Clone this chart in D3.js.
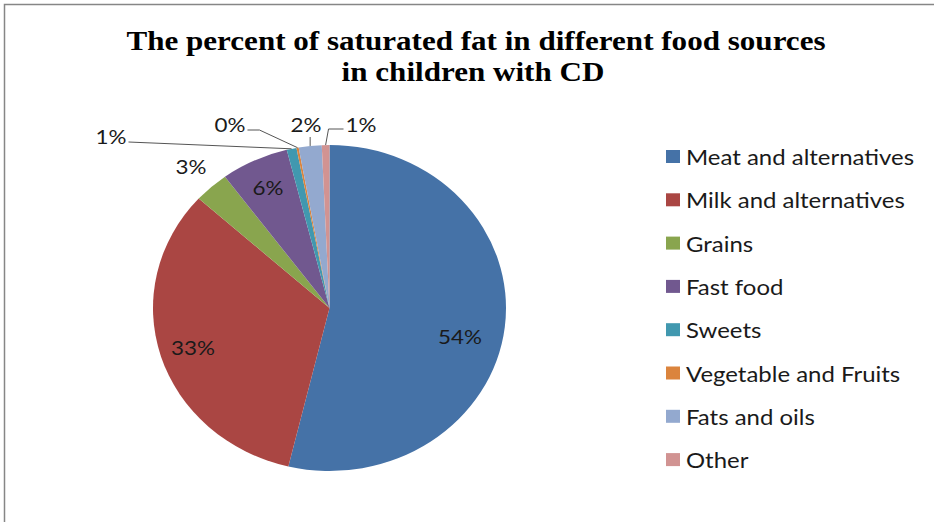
<!DOCTYPE html>
<html>
<head>
<meta charset="utf-8">
<script src="https://cdn.jsdelivr.net/npm/d3@7"></script>
<style>
  html, body { margin: 0; padding: 0; background: #fff; }
  svg { display: block; }
</style>
</head>
<body>
<svg id="chart" width="934" height="522"></svg>
<script>
// Share of saturated fat by food source
const categories = [
  "Meat and alternatives",
  "Milk and alternatives",
  "Grains",
  "Fast food",
  "Sweets",
  "Vegetable and Fruits",
  "Fats and oils",
  "Other"
];
const shares = [53.8, 33.0, 3.2, 6.2, 0.9, 0.2, 2.1, 0.7];
const colors = ["#4572A7", "#AA4643", "#89A54E", "#71588F", "#4198AF", "#DB843D", "#93A9CF", "#D19392"];
const titleLines = ["The percent of saturated fat in different food sources", "in children with CD"];

const svg = d3.select("#chart");
const W = 934, H = 522;

// widen a text element horizontally by a factor
function widen(sel, k) {
  const w = sel.node().getComputedTextLength();
  sel.attr("textLength", w * k).attr("lengthAdjust", "spacingAndGlyphs");
  return sel;
}

// chart frame (runs past the right and bottom edges)
svg.append("rect")
  .attr("x", 4.5).attr("y", 4.5)
  .attr("width", W + 20).attr("height", H + 20)
  .attr("fill", "#fff").attr("stroke", "#868686").attr("stroke-width", 1.5);

// title
const title = svg.append("g");
titleLines.forEach((t, i) => {
  widen(title.append("text")
    .attr("x", 476 - i * 3).attr("y", 50 + i * 31)
    .attr("text-anchor", "middle")
    .attr("font-family", "'Liberation Serif', 'Times New Roman', serif")
    .attr("font-weight", "bold")
    .attr("font-size", 27.5)
    .attr("fill", "#000")
    .text(t), 1.13);
});

// pie geometry: slightly wider than tall
const cx = 329.5, cy = 308, rx = 176.5, ry = 163;
const total = d3.sum(shares);
const pct = v => Math.round(v / total * 100) + "%";

const pie = d3.pie().sort(null).value(d => d.v);
const data = pie(categories.map((c, i) => ({ c, v: shares[i], color: colors[i] })));
const arc = d3.arc().innerRadius(0).outerRadius(ry);

const pieG = svg.append("g")
  .attr("transform", `translate(${cx},${cy}) scale(${rx / ry},1)`);
pieG.selectAll("path")
  .data(data)
  .join("path")
  .attr("d", arc)
  .attr("fill", d => d.data.color);

// point on the ellipse at angle a (radians, clockwise from top), radius fraction f
const pt = (a, f) => [cx + Math.sin(a) * rx * f, cy - Math.cos(a) * ry * f];
const mid = d => (d.startAngle + d.endAngle) / 2;

const labelFont = "Lato, 'Open Sans', sans-serif";
const labelSize = 20;
const stretch = 1.12; // body text is set a little wide

// labels inside or just outside the larger slices: [radius fraction, angular nudge in degrees]
const labelPlace = {
  "Meat and alternatives": [0.76, 6.5],
  "Milk and alternatives": [0.81, 0],
  "Fast food": [0.82, 0],
  "Grains": [1.17, 0]
};
data.filter(d => labelPlace[d.data.c]).forEach(d => {
  const [f, nudge] = labelPlace[d.data.c];
  const [x, y] = pt(mid(d) + nudge * Math.PI / 180, f);
  widen(svg.append("text")
    .attr("x", x).attr("y", y)
    .attr("text-anchor", "middle").attr("dominant-baseline", "central")
    .attr("font-family", labelFont).attr("font-size", labelSize)
    .attr("fill", "#1a1a1a")
    .text(pct(d.data.v)), stretch);
});

// callouts for the thin slices at the top, with leader lines
const callouts = {
  "Sweets": { x: 111, y: 136, side: "right" },
  "Vegetable and Fruits": { x: 230, y: 124, side: "right", elbow: 12 },
  "Fats and oils": { x: 306, y: 124, side: "bottom" },
  "Other": { x: 361, y: 124, side: "left", elbow: 15 }
};
data.filter(d => callouts[d.data.c]).forEach(d => {
  const c = callouts[d.data.c];
  const t = widen(svg.append("text")
    .attr("x", c.x).attr("y", c.y)
    .attr("text-anchor", "middle").attr("dominant-baseline", "central")
    .attr("font-family", labelFont).attr("font-size", labelSize)
    .attr("fill", "#1a1a1a")
    .text(pct(d.data.v)), stretch);
  const bb = t.node().getBBox();
  const end = pt(mid(d), 1);
  let pts;
  if (c.side === "right") {
    const s = [bb.x + bb.width + 2, c.y + 6];
    pts = c.elbow ? [s, [s[0] + c.elbow, s[1]], end] : [s, end];
  } else if (c.side === "left") {
    const s = [bb.x - 2, c.y + 5];
    pts = [s, [s[0] - c.elbow, s[1]], end];
  } else {
    pts = [[end[0], c.y + 13], end];
  }
  svg.append("path")
    .attr("d", d3.line()(pts))
    .attr("fill", "none").attr("stroke", "#555").attr("stroke-width", 1);
});

// legend
const legend = svg.append("g").attr("transform", "translate(666,157)");
categories.forEach((c, i) => {
  const row = legend.append("g").attr("transform", `translate(0,${i * 43.3})`);
  row.append("rect")
    .attr("x", 0).attr("y", -7).attr("width", 14).attr("height", 13)
    .attr("fill", colors[i]);
  widen(row.append("text")
    .attr("x", 20).attr("y", -0.5)
    .attr("dominant-baseline", "central")
    .attr("font-family", labelFont).attr("font-size", 21)
    .attr("fill", "#1a1a1a")
    .text(c), 1.14);
});
</script>
</body>
</html>
